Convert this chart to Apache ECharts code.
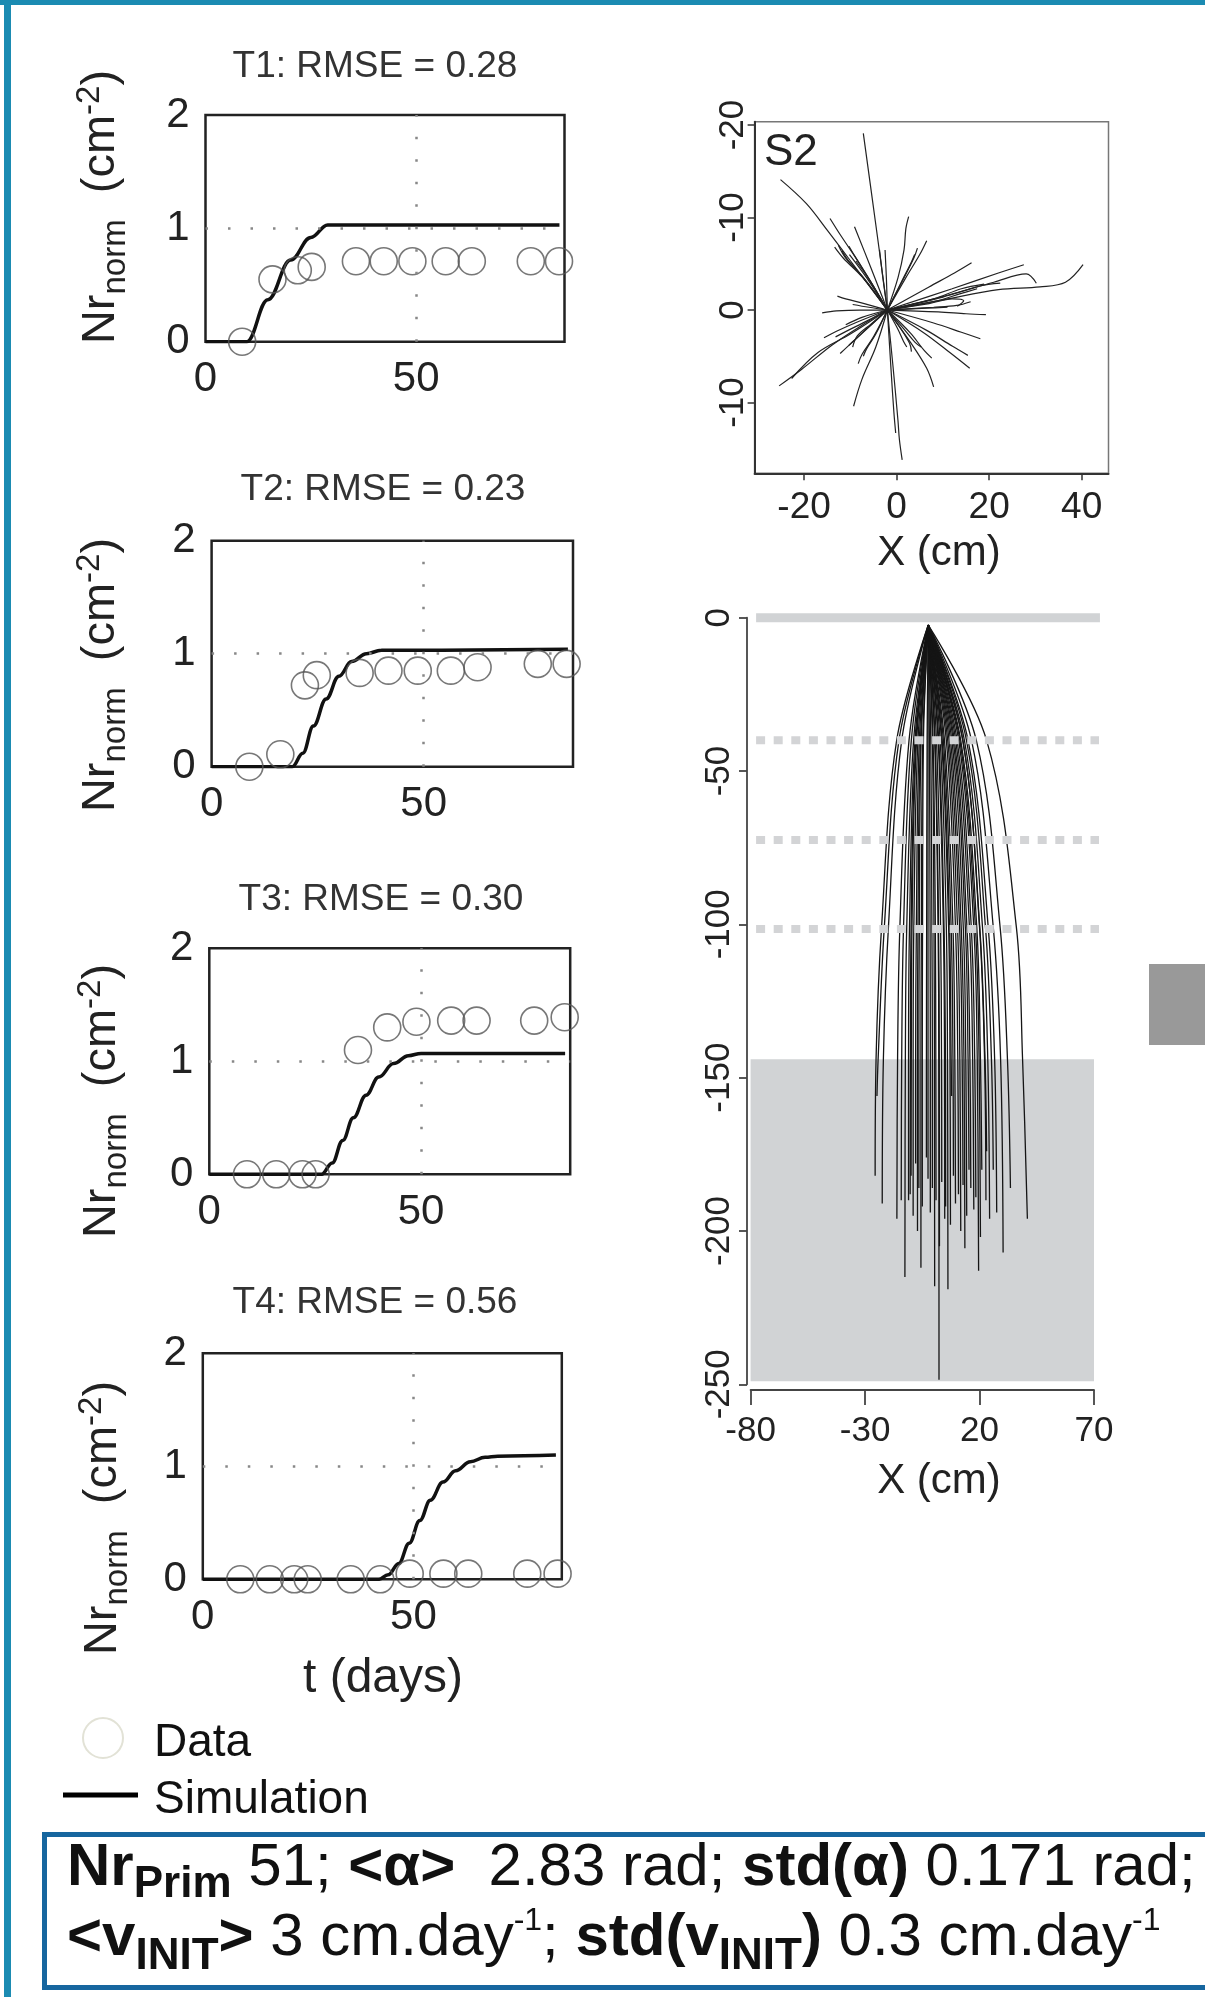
<!DOCTYPE html>
<html><head><meta charset="utf-8">
<script src="https://cdn.jsdelivr.net/npm/echarts@6/dist/echarts.min.js"></script>
<style>html,body{margin:0;padding:0;background:#fff}#c{width:1205px;height:1997px}</style>
</head><body><div id="c"></div>
<script>
const FONT = '"Liberation Sans", Arial, Helvetica, sans-serif';

// ---------- growth panels: t (days) vs Nr_norm (cm^-2)
const panelTitles = ['T1: RMSE = 0.28', 'T2: RMSE = 0.23', 'T3: RMSE = 0.30', 'T4: RMSE = 0.56'];
const obsT1 = [[8.7,0],[15.9,0.55],[21.9,0.63],[25.2,0.66],[35.7,0.71],[42.3,0.71],[49.1,0.71],[57.0,0.71],[63.2,0.71],[77.2,0.71],[83.9,0.71]];
const obsT2 = [[8.9,0],[16.2,0.11],[22.0,0.72],[24.8,0.81],[34.9,0.83],[41.7,0.85],[48.6,0.85],[56.4,0.85],[62.7,0.88],[76.9,0.91],[83.7,0.91]];
const obsT3 = [[8.9,0],[15.8,0],[22.0,0],[25.1,0],[35.1,1.10],[42.0,1.30],[48.9,1.35],[57.1,1.36],[63.1,1.36],[76.7,1.36],[83.9,1.39]];
const obsT4 = [[8.9,0],[15.9,0],[21.7,0],[24.9,0],[35.1,0],[42.1,0],[49.1,0.05],[57.1,0.05],[63.0,0.05],[77.0,0.05],[84.2,0.05]];
const simT1 = [[0,0],[9.8,0],[14.8,0.37],[20.2,0.72],[25,0.92],[29,1.03],[84,1.03]];
const simT2 = [[0,0],[19,0],[21.5,0.12],[24,0.36],[27,0.6],[30,0.8],[33,0.93],[36.5,1.0],[40,1.03],[84,1.04]];
const simT3 = [[0,0],[26.5,0],[29,0.1],[31.5,0.3],[34,0.5],[37,0.7],[40,0.86],[43.5,0.98],[47,1.05],[50,1.07],[84,1.07]];
const simT4 = [[0,0],[41.7,0],[44,0.04],[46.5,0.14],[49,0.32],[51.5,0.52],[54,0.7],[57,0.86],[60,0.96],[63.5,1.04],[67,1.08],[70,1.09],[83.8,1.1]];
const tTicksX = [0, 50];
const tTicksY = [0, 1, 2];
const tRefX = 50, tRefY = 1;

// ---------- top view S2 (X cm, Y cm) : each root = points after the origin
const topOrigin = [-2.0, 0.0];
const s2TicksX = [-20, 0, 20, 40];
const s2TicksY = [-20, -10, 0, 10];
const s2TickLabelsY = ['-20', '-10', '0', '-10'];
const topRoots = [
 [[-4.6,-9.6],[-7.2,-19.1]],
 [[-9.5,-5.0],[-14.8,-8.5],[-19.5,-11.5],[-25.1,-14.1]],
 [[-8.0,-5.0],[-12.0,-8.0],[-14.4,-9.9]],
 [[-5.5,-4.5],[-9.1,-9.0]],
 [[-7.5,-3.6],[-11.5,-5.6],[-13.4,-6.8]],
 [[-7.2,-3.5],[-11.0,-5.6],[-12.6,-7.0]],
 [[-7.0,-3.4],[-10.5,-5.4],[-11.8,-6.4]],
 [[-6.5,-3.5],[-10.2,-6.0]],
 [[-6.0,-3.4],[-9.0,-5.8],[-10.3,-6.9]],
 [[-5.8,-3.2],[-8.8,-5.3]],
 [[-2.9,-3.2],[-3.7,-6.5]],
 [[-2.2,-3.3],[-2.5,-6.5]],
 [[0.3,-3.5],[1.6,-6.5],[2.0,-8.8],[2.6,-10.1]],
 [[2.0,-3.5],[5.0,-6.0],[6.5,-7.5]],
 [[1.3,-3.2],[3.7,-5.6],[4.5,-6.7]],
 [[1.0,-3.0],[3.2,-5.2],[3.9,-6.0]],
 [[7.0,-2.5],[12.5,-4.0],[16.2,-5.1]],
 [[12.0,-2.3],[22.0,-4.0],[27.5,-4.9]],
 [[10.0,-1.1],[22.0,-2.2],[31.0,-2.5],[36.5,-3.0],[40.3,-4.9]],
 [[11.0,-1.6],[21.0,-3.0],[28.0,-3.9],[30.2,-2.9]],
 [[10.0,-1.4],[18.0,-2.6],[22.4,-2.9]],
 [[8.0,-1.2],[14.0,-2.3],[18.9,-2.8]],
 [[8.0,-0.9],[14.0,-1.8],[17.4,-2.3]],
 [[7.0,-0.7],[12.0,-1.2],[14.5,-1.0],[13.1,-0.4]],
 [[8.0,-0.3],[13.0,-0.5],[16.0,-0.9]],
 [[9.0,0.2],[15.0,0.4],[19.3,0.5]],
 [[6.5,-0.2],[11.0,-0.3]],
 [[8.0,1.4],[14.0,2.4],[18.1,3.1]],
 [[6.5,2.2],[12.0,3.9],[15.4,4.9]],
 [[6.0,2.5],[11.5,4.6],[15.8,6.3]],
 [[3.0,3.5],[6.5,6.3],[8.0,8.3]],
 [[3.0,2.5],[6.0,4.4],[7.6,5.2]],
 [[1.5,2.0],[4.0,3.5],[5.3,4.0]],
 [[0.2,2.0],[1.5,3.4],[2.2,4.0]],
 [[0.6,1.8],[2.8,3.6],[3.2,4.5]],
 [[-0.8,6.0],[0.3,12.0],[0.6,14.0],[1.2,16.2]],
 [[-1.2,6.5],[-0.6,11.0],[-0.2,13.3]],
 [[-4.5,4.0],[-7.5,7.5],[-9.3,10.4]],
 [[-5.0,2.9],[-7.5,4.8],[-8.3,5.8]],
 [[-4.5,2.6],[-6.5,4.2],[-7.2,5.0]],
 [[-7.0,2.3],[-10.5,3.9],[-12.2,4.7]],
 [[-6.2,1.9],[-9.0,3.2],[-10.3,3.8]],
 [[-9.0,1.4],[-13.0,2.3],[-15.7,3.0]],
 [[-10.0,2.6],[-17.0,4.6],[-22.7,7.4]],
 [[-8.0,1.8],[-14.0,3.8],[-20.5,6.4],[-25.4,8.2]],
 [[-5.5,1.5],[-8.5,2.8],[-9.5,4.0]],
 [[-6.5,1.2],[-10.5,2.2],[-13.2,2.9]],
 [[-8.0,0.0],[-13.0,0.1],[-16.1,0.3]],
 [[-7.0,-0.7],[-11.0,-1.2],[-12.8,-1.5]],
 [[-6.0,-0.3],[-9.5,-0.6]],
 [[-7.5,0.8],[-11.0,1.6]]
];

// ---------- side view (X cm, depth cm): each root = [x at -40, x at -101, x at -144, tip x, tip depth]
const sideApex = [-2.4, -2.4];
const sideDepths = [-40, -101, -144];
const sideTicksX = [-80, -30, 20, 70];
const sideTicksY = [0, -50, -100, -150, -200, -250];
const sideRoots = [
 [-16.2,-22.8,-25.2,-25.6,-182],[-15.2,-21.6,-24.3,-24.8,-156],[-14.0,-19.8,-22.0,-22.5,-191],
 [-10.8,-14.8,-15.8,-16.1,-196],[-9.8,-13.2,-14.0,-14.2,-190],[-8.8,-11.8,-12.4,-12.6,-215],
 [-8.2,-10.6,-11.0,-11.0,-190],[-7.8,-9.9,-10.2,-10.3,-188],[-7.5,-9.5,-9.8,-9.9,-182],
 [-6.9,-8.7,-9.0,-9.0,-195],[-6.3,-7.6,-7.9,-7.9,-178],[-5.8,-6.9,-7.1,-7.1,-200],
 [-5.5,-6.3,-6.5,-6.5,-186],[-4.8,-5.4,-5.6,-5.6,-212],[-4.5,-4.9,-5.0,-5.0,-192],
 [-2.9,-3.1,-3.2,-3.2,-176],[-2.5,-2.5,-2.5,-2.5,-183],[-1.9,-1.6,-1.5,-1.5,-194],
 [-1.3,-0.8,-0.6,-0.6,-186],[-0.6,0.1,0.3,0.4,-218],[-0.3,0.7,0.9,1.0,-190],
 [0.4,1.9,2.2,2.3,-248.5],[0.6,2.1,2.4,2.5,-205],[1.2,3.0,3.4,3.5,-184],
 [1.9,4.2,4.7,4.8,-196],[2.2,4.5,5.1,5.2,-192],[2.8,5.5,6.0,6.2,-219],
 [3.4,6.5,7.1,7.3,-198],[3.7,6.9,7.6,7.8,-156],[4.2,7.6,8.4,8.6,-182],
 [4.7,8.4,9.2,9.5,-191],[5.5,9.5,10.5,10.8,-188],[6.1,10.4,11.4,11.8,-200],
 [6.7,11.3,12.4,12.8,-185],[7.3,12.0,13.2,13.6,-205.6],[7.9,12.9,14.0,14.4,-195],
 [8.5,13.8,15.0,15.4,-180],[9.0,14.5,15.8,16.2,-186],[9.6,15.6,17.0,17.5,-193],
 [10.2,16.4,17.9,18.4,-189],[10.9,17.5,19.0,19.6,-213],[11.4,18.2,19.8,20.4,-202],
 [11.8,18.8,20.4,21.0,-180],[12.7,20.1,22.4,23.1,-174],[12.7,20.0,22.2,22.8,-190],
 [13.4,21.3,23.6,24.4,-196],[14.3,22.6,25.2,26.0,-180],[15.0,23.8,26.6,27.5,-194],
 [16.5,26.0,29.2,30.3,-207],[18.6,29.0,32.2,33.5,-186],[23.1,36.1,38.8,40.9,-196]
];
const deepZone = [-80, -144, 70, -249];      // x0, top depth, x1, bottom depth
const surfaceDepth = 0;
const layerDepths = [-40, -72.5, -101.5];
const layerSpan = [-77.6, 72.6];

// ---------- layout
const tGrids = [
  {left:205.5, top:115,   width:359,   height:226.7},
  {left:211.6, top:540.7, width:361.4, height:226},
  {left:209.3, top:948.3, width:360.9, height:226},
  {left:202.8, top:1353.3,width:359,   height:226}
];
const grids = tGrids.map(g => Object.assign({show:true, borderColor:'#222', borderWidth:2.5, outerBoundsMode:'none'}, g));
grids.push({left:754.6, top:121.7, width:353.9, height:351.6, show:true, borderColor:'#777', borderWidth:1.5, outerBoundsMode:'none'});
grids.push({left:750.6, top:617.7, width:343.4, height:766.6, show:false, outerBoundsMode:'none'});

const lblBase = {fontFamily:FONT, color:'#222'};
const xAxes = [], yAxes = [];
for (let i = 0; i < 4; i++) {
  xAxes.push({type:'value', gridIndex:i, min:0, max:85.2, axisLine:{show:false}, axisTick:{show:false}, splitLine:{show:false},
    axisLabel:Object.assign({customValues:tTicksX, fontSize:42, margin:17}, lblBase)});
  yAxes.push({type:'value', gridIndex:i, min:0, max:2, axisLine:{show:false}, axisTick:{show:false}, splitLine:{show:false},
    axisLabel:Object.assign({customValues:tTicksY, fontSize:42, margin:16}, lblBase)});
}
xAxes.push({type:'value', gridIndex:4, min:-30.7, max:45.8, splitLine:{show:false},
  axisLine:{show:true, onZero:false, lineStyle:{color:'#333', width:2}},
  axisTick:{show:true, customValues:s2TicksX, length:7, lineStyle:{color:'#333', width:1.5}},
  axisLabel:Object.assign({customValues:s2TicksX, fontSize:37, margin:16}, lblBase)});
yAxes.push({type:'value', gridIndex:4, min:-20.36, max:17.65, inverse:true, splitLine:{show:false},
  axisLine:{show:true, onZero:false, lineStyle:{color:'#333', width:2}},
  axisTick:{show:true, customValues:s2TicksY, length:7, lineStyle:{color:'#333', width:1.5}},
  axisLabel:Object.assign({customValues:s2TicksY, fontSize:35, margin:4, rotate:90,
    formatter: v => { const k = s2TicksY.indexOf(v); return k >= 0 ? s2TickLabelsY[k] : String(v); }}, lblBase)});
xAxes.push({type:'value', gridIndex:5, min:-80, max:70, offset:5.7, splitLine:{show:false},
  axisLine:{show:true, onZero:false, lineStyle:{color:'#444', width:1.8}},
  axisTick:{show:true, customValues:sideTicksX, length:15, lineStyle:{color:'#444', width:1.8}},
  axisLabel:Object.assign({customValues:sideTicksX, fontSize:35, margin:24}, lblBase)});
yAxes.push({type:'value', gridIndex:5, min:-250, max:0, offset:3.6, splitLine:{show:false},
  axisLine:{show:true, onZero:false, lineStyle:{color:'#444', width:1.8}},
  axisTick:{show:true, customValues:sideTicksY, length:8, lineStyle:{color:'#444', width:1.8}},
  axisLabel:Object.assign({customValues:sideTicksY, fontSize:35, margin:10, rotate:90}, lblBase)});

// ---------- series
const series = [];
const obs = [obsT1, obsT2, obsT3, obsT4];
const sim = [simT1, simT2, simT3, simT4];
for (let i = 0; i < 4; i++) {
  series.push({type:'line', xAxisIndex:i, yAxisIndex:i, data:sim[i], symbol:'none', smooth:0.4, smoothMonotone:'x',
    lineStyle:{color:'#111', width:3.5}, z:3, silent:true,
    markLine:{silent:true, symbol:'none', label:{show:false}, animation:false,
      lineStyle:{color:'#888', width:2.5, type:[2.5, 20]},
      data:[{yAxis:tRefY}, {xAxis:tRefX}]}});
  series.push({type:'scatter', xAxisIndex:i, yAxisIndex:i, data:obs[i], symbol:'circle', symbolSize:27, clip:false, z:4, silent:true,
    itemStyle:{color:'rgba(0,0,0,0)', borderColor:'#555', borderWidth:1.6}});
}
topRoots.forEach(r => series.push({type:'line', xAxisIndex:4, yAxisIndex:4, data:[topOrigin].concat(r), symbol:'none',
  smooth:0.35, silent:true, lineStyle:{color:'#222', width:1.2}, z:3}));

series.push({type:'custom', xAxisIndex:5, yAxisIndex:5, data:[deepZone], silent:true, z:1,
  renderItem:(p, api) => {
    const a = api.coord([api.value(0), api.value(1)]);
    const b = api.coord([api.value(2), api.value(3)]);
    return {type:'rect', shape:{x:a[0], y:a[1], width:b[0]-a[0], height:b[1]-a[1]}, style:{fill:'#d1d3d5'}};
  }});
sideRoots.forEach(r => series.push({type:'line', xAxisIndex:5, yAxisIndex:5,
  data:[sideApex, [r[0], sideDepths[0]], [r[1], sideDepths[1]], [r[2], sideDepths[2]], [r[3], r[4]]],
  symbol:'none', smooth:0.35, silent:true, lineStyle:{color:'#151515', width:1.3}, z:2}));
series.push({type:'line', xAxisIndex:5, yAxisIndex:5, data:[[layerSpan[0], surfaceDepth],[layerSpan[1], surfaceDepth]],
  symbol:'none', clip:false, silent:true, lineStyle:{color:'#d1d3d5', width:9}, z:5});
layerDepths.forEach(d => series.push({type:'line', xAxisIndex:5, yAxisIndex:5, data:[[layerSpan[0], d],[layerSpan[1], d]],
  symbol:'none', clip:false, silent:true, lineStyle:{color:'#d3d4d6', width:8, type:[9, 8.6]}, z:5}));

// ---------- texts & decorations
const txt = (x, y, text, size, extra) => ({type:'text', x, y, silent:true,
  style:Object.assign({text, fontSize:size, fontFamily:FONT, fill:'#222', align:'center', verticalAlign:'middle'}, extra || {})});
const nameRich = {
  m:{fontSize:47, fontFamily:FONT, fill:'#222', lineHeight:70, verticalAlign:'middle'},
  s:{fontSize:33, fontFamily:FONT, fill:'#222', verticalAlign:'middle', padding:[30,0,0,0]},
  p:{fontSize:33, fontFamily:FONT, fill:'#222', verticalAlign:'middle', padding:[0,0,22,0]}
};
const yName = (x, y) => ({type:'text', x, y, rotation:Math.PI/2, silent:true,
  style:{text:'{m|Nr}{s|norm}{m|  (cm}{p|-2}{m|)}', align:'center', verticalAlign:'middle', fontFamily:FONT, fill:'#222', rich:nameRich}});
const boxRich = {
  b:{fontSize:60, fontWeight:'bold', fontFamily:FONT, fill:'#111', lineHeight:90, verticalAlign:'middle'},
  r:{fontSize:60, fontFamily:FONT, fill:'#111', lineHeight:90, verticalAlign:'middle'},
  s1:{fontSize:44, fontWeight:'bold', fontFamily:FONT, fill:'#111', verticalAlign:'middle', padding:[34,0,0,0]},
  s2:{fontSize:44, fontWeight:'bold', fontFamily:FONT, fill:'#111', verticalAlign:'middle', padding:[36,0,0,0]},
  p:{fontSize:32, fontFamily:FONT, fill:'#111', verticalAlign:'middle', padding:[0,0,34,0]}
};
const graphic = [
  {type:'rect', shape:{x:0, y:0, width:1205, height:5}, style:{fill:'#1b8bb2'}, silent:true},
  {type:'rect', shape:{x:4, y:0, width:7, height:1997}, style:{fill:'#1b8bb2'}, silent:true},
  {type:'rect', shape:{x:1149, y:964, width:56, height:81}, style:{fill:'#999999'}, silent:true},
  {type:'rect', shape:{x:44.5, y:1834.5, width:1200, height:153}, style:{fill:'#fff', stroke:'#16669f', lineWidth:5}, silent:true},
  txt(375, 66.5, panelTitles[0], 37, {fill:'#333'}),
  txt(383, 490, panelTitles[1], 37, {fill:'#333'}),
  txt(381, 899.5, panelTitles[2], 37, {fill:'#333'}),
  txt(375, 1302.5, panelTitles[3], 37, {fill:'#333'}),
  yName(101, 207), yName(101, 675), yName(102, 1101), yName(103, 1518),
  txt(383, 1679, 't (days)', 48),
  txt(939, 553, 'X (cm)', 42),
  txt(939, 1481, 'X (cm)', 42),
  txt(764, 152.5, 'S2', 44, {align:'left'}),
  {type:'circle', shape:{cx:103, cy:1738, r:20}, style:{fill:'none', stroke:'#e2e2d6', lineWidth:2}, silent:true},
  {type:'line', shape:{x1:63, y1:1795, x2:138, y2:1795}, style:{stroke:'#000', lineWidth:5}, silent:true},
  txt(154, 1743, 'Data', 46, {align:'left', fill:'#111'}),
  txt(154, 1800, 'Simulation', 46, {align:'left', fill:'#111'}),
  {type:'text', x:67, y:1868, silent:true, style:{align:'left', verticalAlign:'middle', fontFamily:FONT, rich:boxRich,
    text:'{b|Nr}{s1|Prim}{r| 51; }{b|<α>}{r|  2.83 rad; }{b|std(α)}{r| 0.171 rad;}'}},
  {type:'text', x:67, y:1938.5, silent:true, style:{align:'left', verticalAlign:'middle', fontFamily:FONT, rich:boxRich,
    text:'{b|<v}{s2|INIT}{b|>}{r| 3 cm.day}{p|-1}{r|; }{b|std(v}{s2|INIT}{b|)}{r| 0.3 cm.day}{p|-1}'}}
];

const chart = echarts.init(document.getElementById('c'), null, {renderer:'canvas'});
chart.setOption({animation:false, backgroundColor:'#fff', grid:grids, xAxis:xAxes, yAxis:yAxes, series, graphic});
</script></body></html>
